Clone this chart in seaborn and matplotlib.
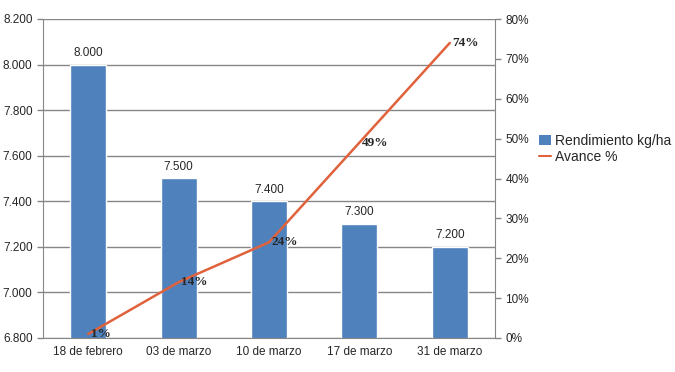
import numpy as np
import pandas as pd
import matplotlib
matplotlib.use('Agg')
import matplotlib.pyplot as plt
import seaborn as sns
from matplotlib.ticker import FuncFormatter, MultipleLocator
from matplotlib.lines import Line2D
from matplotlib.patches import Patch


fechas = ['18 de febrero', '03 de marzo', '10 de marzo', '17 de marzo', '31 de marzo']
rendimiento = [8000, 7500, 7400, 7300, 7200]
avance = [0.01, 0.14, 0.24, 0.49, 0.74]

COLOR_BAR = '#4F81BD'
COLOR_LINE = '#E0623C'
COLOR_AXIS = '#868686'

sns.set_style('white')
plt.rcParams['font.family'] = ['Liberation Sans', 'DejaVu Sans']

df = pd.DataFrame({'fecha': fechas, 'rend': rendimiento, 'avance': avance})

fig = plt.figure(figsize=(6.75, 3.72), dpi=100)
ax = fig.add_axes([43 / 675, 1 - 338 / 372, (495 - 43) / 675, (338 - 19) / 372])

sns.barplot(data=df, x='fecha', y='rend', color=COLOR_BAR, width=0.4,
            saturation=1, ax=ax)
ax.set_ylim(6800, 8200)
ax.yaxis.set_major_locator(MultipleLocator(200))
ax.yaxis.set_major_formatter(FuncFormatter(lambda v, p: f'{v:,.0f}'.replace(',', '.')))
ax.grid(axis='y', color=COLOR_AXIS, lw=1)
ax.set_axisbelow(True)
ax.set_xlabel('')
ax.set_ylabel('')
ax.set_xlim(-0.5, len(fechas) - 0.5)

# ticks between categories
ax.set_xticks(np.arange(len(fechas)))
ax.set_xticks(np.arange(-0.5, len(fechas)), minor=True)
ax.tick_params(axis='x', which='major', length=0, labelsize=8.5, pad=6)
ax.tick_params(axis='x', which='minor', length=4, color=COLOR_AXIS, width=1)
ax.tick_params(axis='y', length=4, color=COLOR_AXIS, width=1, labelsize=8.5, direction='out', left=True)

for s in ['top', 'right']:
    ax.spines[s].set_visible(False)
for s in ['left', 'bottom']:
    ax.spines[s].set_color(COLOR_AXIS)

for i, v in enumerate(rendimiento):
    ax.text(i, v + 25, f'{v:,.0f}'.replace(',', '.'), ha='center', va='bottom', fontsize=8.5)

ax2 = ax.twinx()
ax2.set_position(ax.get_position())
sns.lineplot(x=np.arange(len(fechas)), y=avance, color=COLOR_LINE, lw=1.8, ax=ax2)
ax2.set_ylim(0, 0.8)
ax2.yaxis.set_major_locator(MultipleLocator(0.1))
ax2.yaxis.set_major_formatter(FuncFormatter(lambda v, p: f'{v*100:.0f}%'))
ax2.tick_params(axis='y', length=4, color=COLOR_AXIS, width=1, labelsize=8.5, direction='out')
for s in ['top', 'left', 'bottom']:
    ax2.spines[s].set_visible(False)
ax2.spines['right'].set_color(COLOR_AXIS)
ax2.set_ylabel('')

for i, v in enumerate(avance):
    ax2.annotate(f'{v*100:.0f}%', (i, v), xytext=(2, 0), textcoords='offset points',
                 ha='left', va='center', fontsize=9.5, fontweight='bold',
                 family=['Liberation Serif', 'DejaVu Serif'])

handles = [Patch(facecolor=COLOR_BAR, edgecolor='none'),
           Line2D([0], [0], color=COLOR_LINE, lw=1.5)]
fig.legend(handles, ['Rendimiento kg/ha', 'Avance %'], loc='center left',
           bbox_to_anchor=(536 / 675, 1 - 149 / 372), frameon=False, fontsize=10,
           handlelength=0.9, handleheight=0.7, handletextpad=0.25, labelspacing=0.15,
           borderaxespad=0, borderpad=0.2)

fig.savefig('out.png', dpi=100)
